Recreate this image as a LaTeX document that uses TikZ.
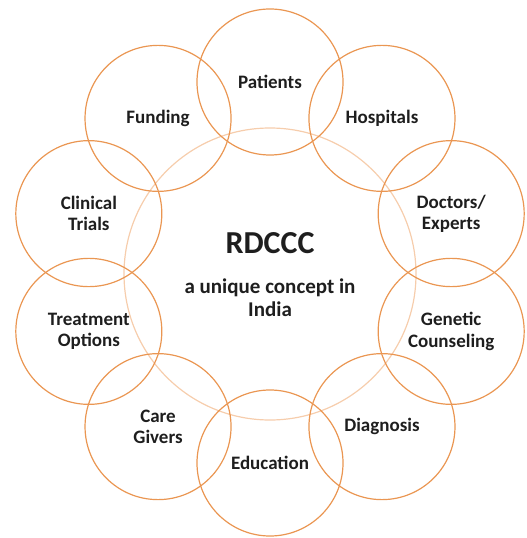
\documentclass[tikz,border=0pt]{standalone}
\usepackage{fontspec}
\setmainfont{Carlito}
\definecolor{ringorange}{RGB}{234,150,82}
\definecolor{coreorange}{RGB}{246,205,172}
\definecolor{txt}{RGB}{30,30,30}
\begin{document}
\begin{tikzpicture}[x=1bp,y=-1bp,
  petal/.style={circle,draw=ringorange,line width=1.2bp,minimum size=146bp,inner sep=0pt,
    align=center,text=txt,font=\fontsize{19bp}{21.5bp}\selectfont\bfseries},
  core/.style={circle,draw=coreorange,line width=1.2bp,minimum size=292bp,inner sep=0pt}]
\useasboundingbox (0,0) rectangle (527,538);
\node[core] (c) at (270,274) {};
\node[text=txt,font=\fontsize{32bp}{36bp}\selectfont\bfseries] (t1) at (270,243) {RDCCC};
\node[text=txt,align=center,font=\fontsize{21bp}{23bp}\selectfont\bfseries] (t2) at (270,298) {a unique concept in\\India};
\foreach \ang/\nm/\lab in {90/p1/Patients,54/p2/Hospitals,18/p3/{Doctors/\\Experts},
   -18/p4/{Genetic\\Counseling},-54/p5/Diagnosis,-90/p6/Education,-126/p7/{Care\\Givers},
   -162/p8/{Treatment\\Options},162/p9/{Clinical\\Trials},126/p10/Funding}
  \node[petal] (\nm) at ({270+190.5*cos(\ang)},{272.5-190.5*sin(\ang)}) {\lab};
\end{tikzpicture}
\end{document}
